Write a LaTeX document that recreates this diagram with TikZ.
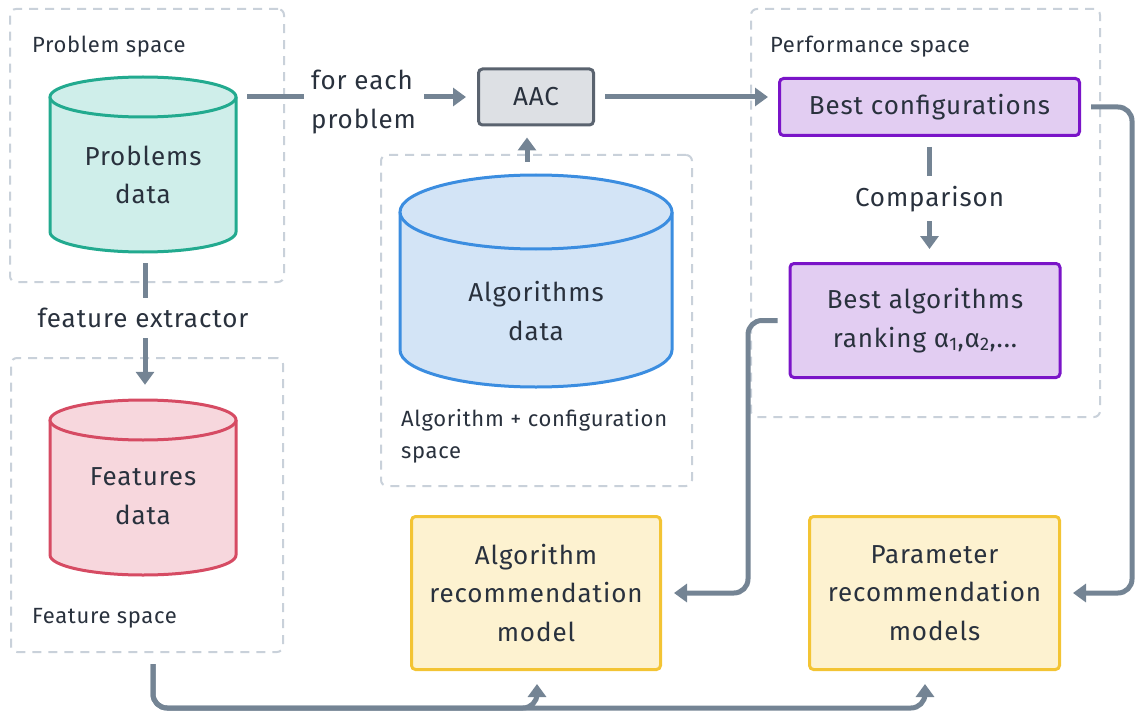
\documentclass[tikz,border=0pt]{standalone}
\usepackage{fontspec}
\setmainfont{Fira Sans}
\usetikzlibrary{arrows.meta,calc}

\definecolor{txt}{HTML}{29313D}
\definecolor{connc}{HTML}{748494}
\definecolor{zonec}{HTML}{C9D1DA}
\definecolor{tealf}{HTML}{CFEEEA}
\definecolor{teald}{HTML}{22AA8F}
\definecolor{bluef}{HTML}{D3E4F6}
\definecolor{blued}{HTML}{3B8DE0}
\definecolor{redf}{HTML}{F7D7DD}
\definecolor{redd}{HTML}{D64B63}
\definecolor{purf}{HTML}{E2CDF2}
\definecolor{purd}{HTML}{7A14C8}
\definecolor{yelf}{HTML}{FDF2D0}
\definecolor{yeld}{HTML}{F3C434}
\definecolor{grayf}{HTML}{DDE0E4}
\definecolor{grayd}{HTML}{5A636F}

\newcommand\bigfont{\fontsize{26}{38.5}\selectfont\addfontfeatures{LetterSpace=3.5}}
\newcommand\smallfont{\fontsize{22}{32}\selectfont\addfontfeatures{LetterSpace=3}}

% cylinder: left x, right x, top centre y, bottom centre y, y radius, fill, draw
\newcommand\dbcyl[7]{%
  \fill[#6] (#1,#3) -- (#1,#4)
    arc[start angle=180,end angle=0,x radius={(#2-#1)/2},y radius=#5] -- (#2,#3) -- cycle;
  \draw[#7,line width=3pt] (#1,#3) -- (#1,#4)
    arc[start angle=180,end angle=0,x radius={(#2-#1)/2},y radius=#5] -- (#2,#3);
  \draw[#7,fill=#6,line width=3pt] ({(#1+#2)/2},#3) ellipse[x radius={(#2-#1)/2},y radius=#5];
}

\begin{document}
\begin{tikzpicture}[x=1pt,y=-1pt,
  zone/.style={draw=zonec,line width=2pt,dash pattern=on 9pt off 7pt,rounded corners=6pt,inner sep=0pt},
  conn/.style={draw=connc,line width=5pt,rounded corners=14pt},
  tip/.style={-{Triangle[length=13pt,width=18pt]}},
  box/.style={rectangle,rounded corners=4pt,line width=3pt,align=center,text=txt,
    font=\bigfont,inner sep=0pt},
  bigtxt/.style={align=center,text=txt,font=\bigfont,inner sep=0pt},
  smalltxt/.style={align=left,text=txt,font=\smallfont,inner sep=0pt}
]
\useasboundingbox (0,0) rectangle (1137,714);

% dashed regions
\node[zone,minimum width=274pt,minimum height=273pt] (pspace) at (147,145.5) {};
\node[zone,minimum width=272pt,minimum height=294pt] (fspace) at (147,505) {};
\node[zone,minimum width=311pt,minimum height=331pt] (aspace) at (536.5,320.5) {};
\node[zone,minimum width=349pt,minimum height=408pt] (perf) at (925.5,213) {};

\node[smalltxt,anchor=base west] (pspacel) at (32,53) {Problem space};
\node[smalltxt,anchor=base west] (fspacel) at (32,623) {Feature space};
\node[smalltxt,anchor=base west] (perfl) at (770,53) {Performance space};
\node[smalltxt,anchor=west] (aspacel) at (401,436) {Algorithm + configuration\\space};

% data stores
\dbcyl{50}{236}{97}{232}{20}{tealf}{teald}
\node[inner sep=0pt,minimum width=186pt,minimum height=175pt] (prob) at (143,164.5) {};
\node[bigtxt] (probt) at (143,175) {Problems\\data};

\dbcyl{50}{236}{420}{555}{20}{redf}{redd}
\node[inner sep=0pt,minimum width=186pt,minimum height=175pt] (feat) at (143,487.5) {};
\node[bigtxt] (featt) at (143,496) {Features\\data};

\dbcyl{400}{672}{212}{350}{37}{bluef}{blued}
\node[inner sep=0pt,minimum width=272pt,minimum height=213pt] (alg) at (536,281.5) {};
\node[bigtxt] (algt) at (536,311) {Algorithms\\data};

% boxes
\node[box,fill=grayf,draw=grayd,minimum width=115pt,minimum height=56pt] (aac) at (536,97) {AAC};
\node[box,fill=purf,draw=purd,minimum width=300pt,minimum height=57pt] (bc) at (929.5,107) {Best configurations};
\node[box,fill=purf,draw=purd,minimum width=270pt,minimum height=114pt] (ba) at (925,320.5)
  {Best algorithms\\ranking α\textsubscript{1},α\textsubscript{2},...};
\node[box,fill=yelf,draw=yeld,minimum width=249pt,minimum height=153pt] (arm) at (536,593)
  {Algorithm\\recommendation\\model};
\node[box,fill=yelf,draw=yeld,minimum width=250pt,minimum height=153pt] (prm) at (934.5,593)
  {Parameter\\recommendation\\models};

% edge labels
\node[bigtxt,align=left,anchor=west] (each) at (311,102) {for each\\problem};
\node[bigtxt] (fext) at (143,318) {feature extractor};
\node[bigtxt] (cmp) at (929.5,199) {Comparison};

% connectors
\draw[conn] ([xshift=11pt]prob.east |- aac.west) -- ([xshift=-7pt]each.west |- aac.west);
\draw[conn,tip] ([xshift=8pt]each.east |- aac.west) -- ([xshift=-11pt]aac.west);
\draw[conn,tip] ([xshift=10pt]aac.east) -- ([xshift=-10pt]bc.west |- aac.east);
\draw[conn,tip] ([xshift=-9pt]alg.north |- aspace.north) ++(0,8) -- ([xshift=-9pt,yshift=-11pt]aac.south);

\draw[conn] ([yshift=-10pt]bc.south) -- ([yshift=10pt]cmp.north);
\draw[conn,tip] ([yshift=-9pt]cmp.south) -- ([yshift=13pt]ba.north -| cmp.south);

\draw[conn] ([xshift=2pt,yshift=-11pt]prob.south) -- ([xshift=2pt,yshift=10pt]fext.north);
\draw[conn,tip] ([xshift=2pt,yshift=-10pt]fext.south) -- ([xshift=2pt,yshift=15pt]feat.north);

\coordinate (lbus) at (748,0);
\coordinate (rbus) at (1132,0);
\coordinate (bbus) at (0,708);
\draw[conn,tip] ([xshift=-11pt]ba.west) -- (lbus |- ba.west) |- ([xshift=12pt]arm.east);
\draw[conn,tip] ([xshift=10pt]bc.east) -- (rbus |- bc.east) |- ([xshift=12pt]prm.east);
\draw[conn,tip] ([xshift=6pt,yshift=-11pt]fspace.south) |- ([xshift=1pt]arm.south |- bbus)
  -- ([xshift=1pt,yshift=-13pt]arm.south);
\draw[conn,tip] ([xshift=6pt,yshift=-11pt]fspace.south) |- ([xshift=-9.5pt]prm.south |- bbus)
  -- ([xshift=-9.5pt,yshift=-13pt]prm.south);
\end{tikzpicture}
\end{document}
